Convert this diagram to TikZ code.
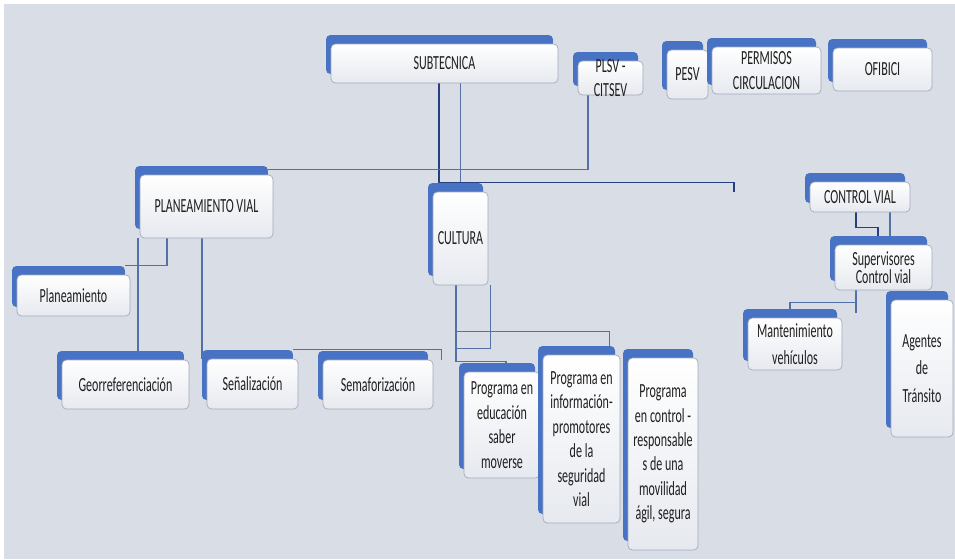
\documentclass[tikz,border=0pt]{standalone}
\usepackage{fontspec}
\usepackage{tikz}
\usetikzlibrary{positioning, shadows, calc}
\newfontfamily\boxfont{Carlito}[FakeStretch=0.6]
\definecolor{ink}{HTML}{1f1f1f}
\definecolor{paper}{HTML}{D8DDE6}
\definecolor{backblue}{HTML}{4872C4}
\definecolor{rim}{HTML}{A3ABBB}
\definecolor{boxgray}{HTML}{E6E9EF}
\definecolor{wire}{HTML}{5470A8}
\definecolor{navy}{HTML}{26407E}
\pgfdeclarelayer{bg}
\pgfdeclarelayer{edges}
\pgfsetlayers{bg,edges,main}

\begin{document}
\begin{tikzpicture}[x=0.02cm, y=-0.02cm,
  font=\boxfont\fontsize{11.4}{13.9}\selectfont, text=ink,
  orgbox/.style={draw=rim, line width=0.4pt, top color=white, bottom color=boxgray,
    rounded corners=2.5pt, align=center, inner sep=1pt,
    general shadow={shadow xshift=-0.1cm, shadow yshift=0.18cm, fill=backblue}},
  link/.style={wire, line width=0.8pt},
  darklink/.style={navy, line width=0.8pt}]
  \useasboundingbox (0,0) rectangle (955,559);
  \begin{pgfonlayer}{bg}
    \fill[white] (0,0) rectangle (955,559);
    \fill[paper] (4,4) rectangle (955,559);
  \end{pgfonlayer}

  % Top row
  \node[orgbox, minimum width=4.54cm, minimum height=0.78cm] (sub) at (444.5,63.5) {SUBTECNICA};
  \node[orgbox, minimum width=1.3cm, minimum height=0.68cm,
    label={[align=center, font=\boxfont\fontsize{11.4}{13.9}\selectfont]center:PLSV -\\CITSEV}] (plsv) at (610.5,78) {};
  \node[orgbox, minimum width=0.82cm, minimum height=0.98cm] (pesv) at (687.5,74.5) {PESV};
  \node[orgbox, minimum width=2.18cm, minimum height=0.94cm] (perm) at (766.5,70.5) {PERMISOS\\CIRCULACION};
  \node[orgbox, minimum width=1.98cm, minimum height=0.86cm] (ofi) at (882.5,69.5) {OFIBICI};

  % Planeamiento vial
  \node[orgbox, minimum width=2.66cm, minimum height=1.26cm] (pv) at (206.5,206.5) {PLANEAMIENTO VIAL};
  \node[orgbox, minimum width=2.26cm, minimum height=0.82cm] (plan) at (73.5,295.5) {Planeamiento};
  \node[orgbox, minimum width=2.54cm, minimum height=0.98cm] (geo) at (125.5,384.5) {Georreferenciación};
  \node[orgbox, minimum width=1.82cm, minimum height=1.0cm] (sen) at (252.5,384) {Señalización};
  \node[orgbox, minimum width=2.2cm, minimum height=0.98cm] (sem) at (378,384.5) {Semaforización};

  % Cultura
  \node[orgbox, minimum width=1.1cm, minimum height=1.86cm] (cul) at (460.5,238.5) {CULTURA};
  \node[orgbox, minimum width=1.52cm, minimum height=2.12cm] (edu) at (502,425)
    {Programa en\\educación\\saber\\moverse};
  \node[orgbox, minimum width=1.54cm, minimum height=3.36cm] (info) at (581.5,439)
    {Programa en\\información-\\promotores\\de la\\seguridad\\vial};
  \node[orgbox, minimum width=1.4cm, minimum height=3.84cm] (ctrl) at (663,454)
    {Programa\\en control -\\responsable\\s de una\\movilidad\\ágil, segura};

  % Control vial
  \node[orgbox, minimum width=2.0cm, minimum height=0.6cm] (cv) at (860,197) {CONTROL VIAL};
  \node[orgbox, minimum width=1.94cm, minimum height=0.9cm,
    font=\boxfont\fontsize{11.4}{10.4}\selectfont] (sup) at (883.5,267.5) {Supervisores\\Control vial};
  \node[orgbox, minimum width=1.88cm, minimum height=1.04cm,
    font=\boxfont\fontsize{11.4}{15.5}\selectfont] (mant) at (795,344) {Mantenimiento\\vehículos};
  \node[orgbox, minimum width=1.24cm, minimum height=2.74cm,
    font=\boxfont\fontsize{11.4}{15.5}\selectfont] (agt) at (922,368.5) {Agentes\\de\\Tránsito};

  \coordinate (stub) at (734,192);

  % Links
  \begin{pgfonlayer}{edges}
    \draw[darklink] ([xshift=-0.43cm]cul.north) -- ([xshift=-0.43cm]cul.north |- sub.south);
    \draw[link] (cul.north) -- (cul.north |- sub.south);
    \draw[darklink] ([xshift=-0.43cm, yshift=0.18cm]cul.north) -| (stub);
    \draw[link] ([xshift=-0.45cm]plsv.south) |- ([xshift=-0.1cm, yshift=0.1cm]pv.north east);

    \draw[link] ([xshift=-0.79cm]pv.south) |- ([xshift=-0.1cm, yshift=0.18cm]plan.north east);
    \draw[link] ([xshift=-1.37cm]pv.south) -- ([xshift=-1.37cm]pv.south |- geo.north);
    \draw[link] ([xshift=-0.09cm]pv.south) -- ([xshift=-0.09cm]pv.south |- sen.north);
    \draw[link] ([xshift=-0.1cm, yshift=0.18cm]sen.north east) -| ([xshift=0.16cm]sem.north east);

    \draw[link] ([xshift=-0.09cm]cul.south) |- ([xshift=0.08cm, yshift=0.2cm]edu.north)
      -- ([xshift=0.08cm]edu.north);
    \draw[link] ([xshift=0.04cm]cul.south east) -- ++(0,63) -- ++(-34,0);
    \draw[link] ([xshift=-0.09cm, yshift=-0.92cm]cul.south) -| ([xshift=-0.22cm]info.north east);

    \draw[darklink] ([xshift=-0.08cm]cv.south) |- ([xshift=-0.11cm, yshift=0.34cm]sup.north)
      -- ([xshift=-0.11cm]sup.north);
    \draw[link] ([xshift=0.6cm]cv.south) -- ([xshift=0.6cm]cv.south |- sup.north);
    \draw[link] ([xshift=-0.55cm]sup.south) -- ++(0,23);
    \draw[link] ([xshift=-0.55cm, yshift=-0.24cm]sup.south) -| ([xshift=-0.1cm]mant.north);
  \end{pgfonlayer}
\end{tikzpicture}
\end{document}
